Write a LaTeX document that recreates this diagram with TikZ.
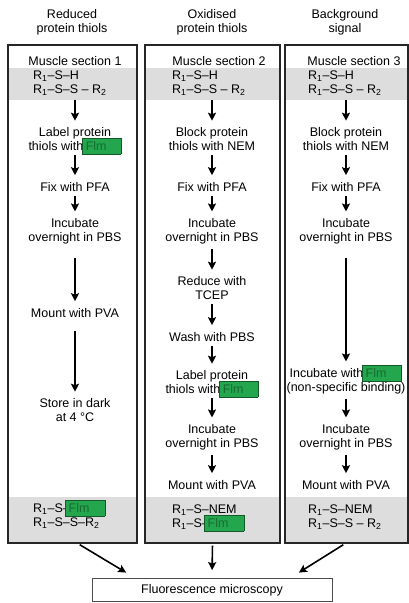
\documentclass[tikz,border=0pt]{standalone}
\usepackage{fontspec}
\setmainfont{Liberation Sans}
\usetikzlibrary{arrows.meta}

\definecolor{bandgray}{RGB}{221,221,221}
\definecolor{flmfill}{RGB}{36,166,78}
\definecolor{flmline}{RGB}{20,90,40}
\definecolor{flmtext}{RGB}{22,108,50}

\newcommand{\flmtag}[1]{\hspace{-5pt}\smash{\setlength{\fboxsep}{3pt}\setlength{\fboxrule}{0.9pt}\fcolorbox{flmline}{flmfill}{\textcolor{flmtext}{Flm}\hspace{#1}}}}
\newcommand{\Rone}{R\textsubscript{1}}
\newcommand{\Rtwo}{R\textsubscript{2}}

\begin{document}
\begin{tikzpicture}[x=1pt,y=-1pt,>={Stealth[length=8pt,width=8pt,inset=1.5pt]},
  every node/.style={font=\fontsize{12.5}{14}\selectfont,inner sep=1pt},
  stepnode/.style={align=center},
  chem/.style={align=left,anchor=west},
  lane/.style={draw=black!85,line width=1.3pt,minimum height=498},
  flow/.style={->,line width=1.6pt,shorten <=3pt,shorten >=6pt}]
  \useasboundingbox (0,0) rectangle (409,603);

  \foreach \a/\b in {8/137,145/280,285/408}{
    \fill[bandgray] (\a,68) rectangle (\b,100);
    \fill[bandgray] (\a,497) rectangle (\b,543);
  }
  \foreach \n/\cx/\w in {1/72.5/129,2/212.5/135,3/346.5/123}
    \node[lane,minimum width=\w] (lane\n) at (\cx,294) {};

  \node[stepnode] (head1) at (72,22) {Reduced\\protein thiols};
  \node[stepnode] (head2) at (212,22) {Oxidised\\protein thiols};
  \node[stepnode] (head3) at (345,22) {Background\\signal};

  \node (sec1) at (75,61) {Muscle section 1};
  \node (sec2) at (219,61) {Muscle section 2};
  \node (sec3) at (354,61) {Muscle section 3};

  \node[chem] (top1) at (32,83) {\Rone--S--H\\\Rone--S--S -- \Rtwo};
  \node[chem] (top2) at (171,83) {\Rone--S--H\\\Rone--S--S -- \Rtwo};
  \node[chem] (top3) at (307,83) {\Rone--S--H\\\Rone--S--S -- \Rtwo};

  \node[stepnode] (a1) at (75,139.5) {Label protein\\thiols with \flmtag{11pt}};
  \node[stepnode] (a2) at (75,187) {Fix with PFA};
  \node[stepnode] (a3) at (75,231.5) {Incubate\\overnight in PBS};
  \node[stepnode] (a4) at (75,313) {Mount with PVA};
  \node[stepnode] (a5) at (75,410.5) {Store in dark\\at 4 °C};
  \node[chem] (bot1) at (32,516.5) {\Rone--S--\flmtag{12pt}\\\Rone--S--S--\Rtwo};

  \node[stepnode] (b1) at (212,139.5) {Block protein\\thiols with NEM};
  \node[stepnode] (b2) at (212,187) {Fix with PFA};
  \node[stepnode] (b3) at (212,231.5) {Incubate\\overnight in PBS};
  \node[stepnode] (b4) at (212,288.5) {Reduce with\\TCEP};
  \node[stepnode] (b5) at (212,337) {Wash with PBS};
  \node[stepnode] (b6) at (212,382.5) {Label protein\\thiols with \flmtag{11pt}};
  \node[stepnode] (b7) at (212,437.5) {Incubate\\overnight in PBS};
  \node[stepnode] (b8) at (212,485) {Mount with PVA};
  \node[chem] (bot2) at (171,517.5) {\Rone--S--NEM\\\Rone--S--\flmtag{12pt}};

  \node[stepnode] (c1) at (346,139.5) {Block protein\\thiols with NEM};
  \node[stepnode] (c2) at (346,187) {Fix with PFA};
  \node[stepnode] (c3) at (346,231.5) {Incubate\\overnight in PBS};
  \node[stepnode] (c4) at (346,381.5) {Incubate with \flmtag{12pt}\\(non-specific binding)};
  \node[stepnode] (c5) at (346,437.5) {Incubate\\overnight in PBS};
  \node[stepnode] (c6) at (346,485) {Mount with PVA};
  \node[chem] (bot3) at (307,517.5) {\Rone--S--NEM\\\Rone--S--S -- \Rtwo};

  \node[draw=black!70,line width=0.8pt,minimum width=240,minimum height=23] (fm) at (212,590) {Fluorescence microscopy};

  \draw[flow] (top1.south -| a1) -- (a1);
  \draw[flow] (top2.south -| b1) -- (b1);
  \draw[flow] (top3.south -| c1) -- (c1);
  \foreach \p/\q in {a1/a2,a2/a3,b1/b2,b2/b3,b3/b4,b4/b5,b5/b6,b6/b7,b7/b8,c1/c2,c2/c3,c4/c5,c5/c6}
    \draw[flow] (\p) -- (\q);
  \foreach \p/\q in {a3/a4,a4/a5,c3/c4}
    \draw[flow,shorten <=12pt] (\p) -- (\q);

  \draw[flow,shorten <=2pt,shorten >=1pt] ([xshift=5.5pt]lane1.south) -- ([xshift=-85pt,yshift=5pt]fm.north);
  \draw[flow,shorten <=2pt,shorten >=8pt] (lane2.south) -- (fm.north);
  \draw[flow,shorten <=2pt,shorten >=1pt] ([xshift=-1.5pt]lane3.south) -- ([xshift=86pt,yshift=5pt]fm.north);
\end{tikzpicture}
\end{document}
